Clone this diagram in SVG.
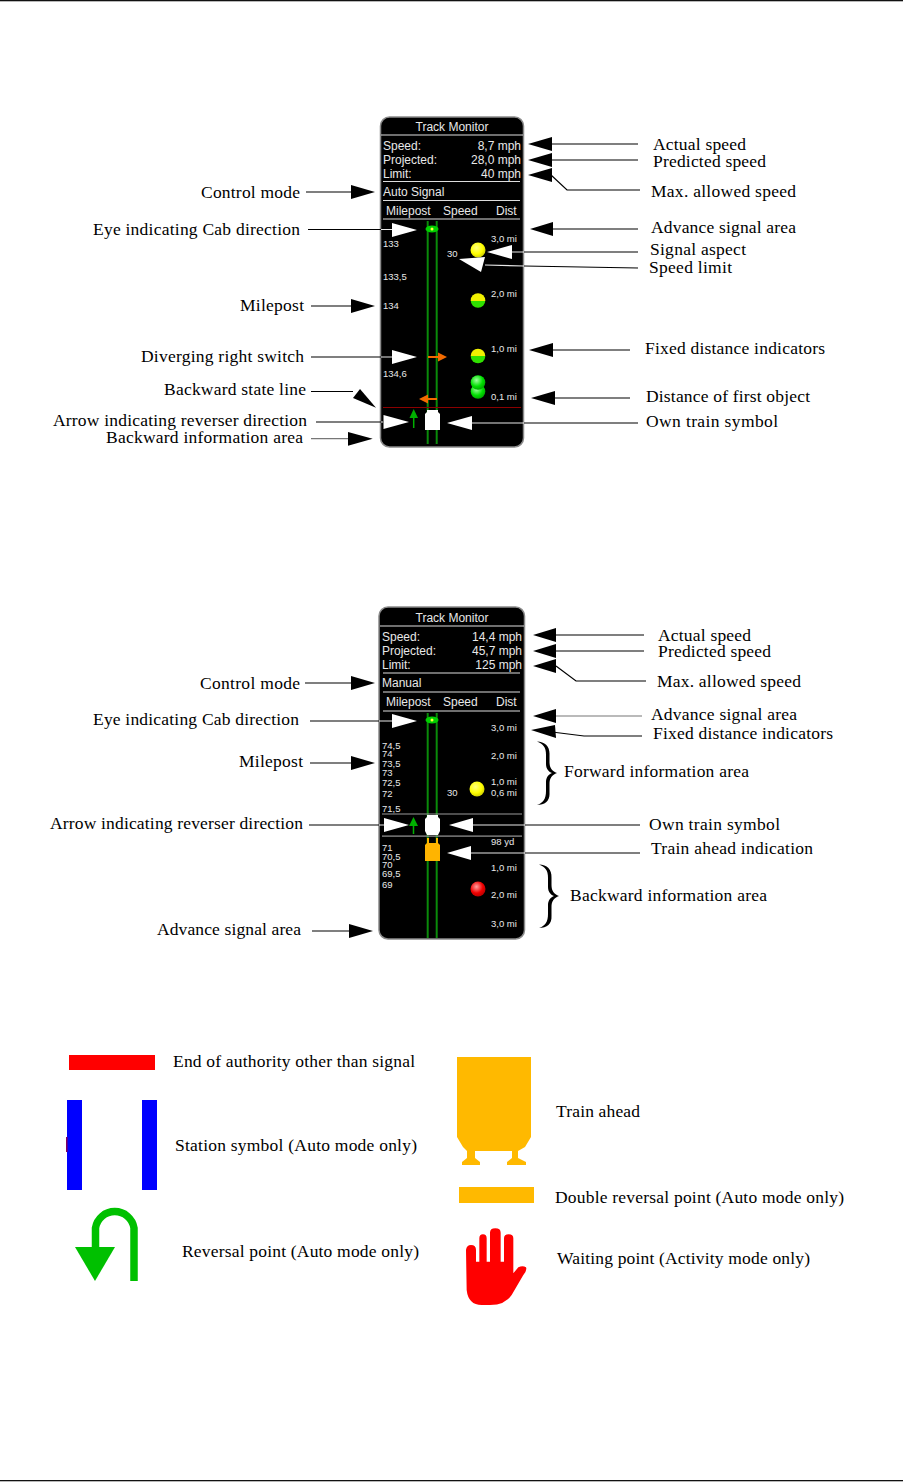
<svg xmlns="http://www.w3.org/2000/svg" width="903" height="1482" viewBox="0 0 903 1482">
<style>
.l{font:17.5px "Liberation Serif",serif;fill:#000}
.h{font:12px "Liberation Sans",Arial,sans-serif;fill:#e8e8e8}
.s{font:9.500px "Liberation Sans",Arial,sans-serif;fill:#e8e8e8}
.c{fill:none;stroke:#000;stroke-width:1.200}
.cg{fill:none;stroke:#777;stroke-width:1.200}
.cw{fill:none;stroke:#e8e8e8;stroke-width:1.200}
.b{fill:#000}
.w{fill:#fff}
.panel{fill:#000;stroke:#8a8a8a;stroke-width:1.500}
.sep{stroke:#ddd;stroke-width:1.200}
.trk{stroke:#0a8a0a;stroke-width:2}
.or{fill:#f26a00}
.or2{stroke:#f26a00;stroke-width:2}
.gr{fill:#00b000}
.gr2{stroke:#00b000;stroke-width:1.500}
.end{text-anchor:end}
</style>
<defs>
<radialGradient id="gy" cx=".4" cy=".35" r=".7"><stop offset="0" stop-color="#ffff80"/><stop offset=".6" stop-color="#ffff00"/><stop offset="1" stop-color="#c8c800"/></radialGradient>
<radialGradient id="gg" cx=".4" cy=".35" r=".7"><stop offset="0" stop-color="#a0ffa0"/><stop offset=".6" stop-color="#00e000"/><stop offset="1" stop-color="#00a000"/></radialGradient>
<radialGradient id="gr" cx=".4" cy=".35" r=".7"><stop offset="0" stop-color="#ffa0a0"/><stop offset=".6" stop-color="#f00000"/><stop offset="1" stop-color="#b00000"/></radialGradient>
<linearGradient id="gh" x1="0" y1="0" x2="0" y2="1"><stop offset=".5" stop-color="#f0f000"/><stop offset=".5" stop-color="#30e000"/></linearGradient>
<filter id="soft" x="-5%" y="-5%" width="110%" height="110%"><feGaussianBlur stdDeviation=".45"/></filter>
<path id="brace" d="M537 741.500C545 742 550 746 549.500 755L549.500 762C549.500 768 552 771 557 773C552 775 549.500 778 549.500 784L549.500 793C550 801 545 805 537 805C543 803 546 799 546 791L546 782C546 777 549 774 552 773C549 772 546 769 546 764L546 755C546 747 543 744 537 741.500Z"/>
</defs>
<rect width="903" height="1482" fill="#fff"/>
<g id="page-rules"><rect x="0" y="0" width="903" height="1.300" fill="#111"/><rect x="0" y="1480" width="903" height="1.300" fill="#111"/></g>

<g id="monitor-1">
<rect class="panel" x="380.500" y="117" width="143" height="330" rx="9"/>
<g class="sep"><line x1="381" x2="523" y1="135" y2="135"/><line x1="383" x2="520" y1="181.500" y2="181.500"/><line x1="383" x2="520" y1="200.500" y2="200.500"/><line x1="383" x2="520" y1="219" y2="219"/></g>
<text class="h" x="452" y="131" text-anchor="middle">Track Monitor</text>
<text class="h" x="383" y="150">Speed:</text><text class="h end" x="521" y="150">8,7 mph</text>
<text class="h" x="383" y="164">Projected:</text><text class="h end" x="521" y="164">28,0 mph</text>
<text class="h" x="383" y="178">Limit:</text><text class="h end" x="521" y="178">40 mph</text>
<text class="h" x="383" y="196">Auto Signal</text>
<text class="h" x="386" y="215">Milepost</text><text class="h" x="443" y="215">Speed</text><text class="h" x="496" y="215">Dist</text>
<line class="trk" x1="427.700" x2="427.700" y1="221" y2="444"/><line class="trk" x1="436.700" x2="436.700" y1="221" y2="444"/>
<ellipse cx="432" cy="229" rx="6.500" ry="3.500" fill="#00d000"/><circle cx="432" cy="229" r="1.500" fill="#ffff40"/>
<text class="s" x="383" y="247">133</text><text class="s" x="383" y="280">133,5</text><text class="s" x="383" y="309">134</text><text class="s" x="383" y="377">134,6</text>
<text class="s" x="491" y="242">3,0 mi</text><text class="s" x="491" y="297">2,0 mi</text><text class="s" x="491" y="352">1,0 mi</text><text class="s" x="491" y="400">0,1 mi</text>
<text class="s" x="447" y="257">30</text>
<circle cx="478" cy="250" r="7.500" fill="url(#gy)"/>
<circle cx="478" cy="300.500" r="7.300" fill="url(#gh)"/><circle cx="478" cy="356" r="7.300" fill="url(#gh)"/>
<circle cx="478" cy="391.500" r="7.300" fill="url(#gg)"/><circle cx="478" cy="382.500" r="7.300" fill="url(#gg)"/>
<line class="or2" x1="428" x2="439" y1="357" y2="357"/><polygon class="or" points="447,357 438,352.500 438,361.500"/>
<line class="or2" x1="428" x2="437" y1="399" y2="399"/><polygon class="or" points="419,399 428,394.500 428,403.500"/>
<line x1="383" x2="521" y1="407.500" y2="407.500" stroke="#8a0000" stroke-width="1"/>
<line class="gr2" x1="413.700" x2="413.700" y1="416" y2="428"/><polygon class="gr" points="413.700,409 409.500,418 418,418"/>
<path class="w" d="M427 410H438V412L440 414V430H425V414L427 412Z"/>
</g>

<g id="monitor-2">
<rect class="panel" x="379" y="607" width="145.500" height="332" rx="9"/>
<g class="sep"><line x1="380" x2="524" y1="626" y2="626"/><line x1="383" x2="520" y1="673" y2="673"/><line x1="383" x2="520" y1="692" y2="692"/><line x1="383" x2="520" y1="711" y2="711"/></g>
<text class="h" x="452" y="622" text-anchor="middle">Track Monitor</text>
<text class="h" x="382" y="641">Speed:</text><text class="h end" x="522" y="641">14,4 mph</text>
<text class="h" x="382" y="655">Projected:</text><text class="h end" x="522" y="655">45,7 mph</text>
<text class="h" x="382" y="669">Limit:</text><text class="h end" x="522" y="669">125 mph</text>
<text class="h" x="382" y="687">Manual</text>
<text class="h" x="386" y="706">Milepost</text><text class="h" x="443" y="706">Speed</text><text class="h" x="496" y="706">Dist</text>
<line class="trk" x1="427.700" x2="427.700" y1="713" y2="938"/><line class="trk" x1="436.700" x2="436.700" y1="713" y2="938"/>
<ellipse cx="432" cy="720" rx="6.500" ry="3.500" fill="#00d000"/><circle cx="432" cy="720" r="1.500" fill="#ffff40"/>
<text class="s" x="382" y="749">74,5</text><text class="s" x="382" y="757">74</text><text class="s" x="382" y="767">73,5</text><text class="s" x="382" y="776">73</text><text class="s" x="382" y="786">72,5</text><text class="s" x="382" y="797">72</text><text class="s" x="382" y="812">71,5</text>
<text class="s" x="382" y="851">71</text><text class="s" x="382" y="860">70,5</text><text class="s" x="382" y="868">70</text><text class="s" x="382" y="877">69,5</text><text class="s" x="382" y="888">69</text>
<text class="s" x="491" y="731">3,0 mi</text><text class="s" x="491" y="759">2,0 mi</text><text class="s" x="491" y="785">1,0 mi</text><text class="s" x="491" y="796">0,6 mi</text>
<text class="s" x="491" y="845">98 yd</text><text class="s" x="491" y="871">1,0 mi</text><text class="s" x="491" y="898">2,0 mi</text><text class="s" x="491" y="927">3,0 mi</text>
<text class="s" x="447" y="796">30</text>
<circle cx="477" cy="789" r="7.500" fill="url(#gy)"/><circle cx="478" cy="889" r="7.500" fill="url(#gr)"/>
<rect x="382" y="813.500" width="140" height="1" fill="#999"/><rect x="382" y="835.500" width="140" height="1.200" fill="#999"/>
<line class="gr2" x1="413.500" x2="413.500" y1="824" y2="834"/><polygon class="gr" points="413.500,817 409,826 418,826"/>
<path class="w" d="M427 815H438V817L440 819V831L438 835H427L425 831V819L427 817Z"/>
<path d="M427 838H429V843H436V838H438V843L440 845V861H425V845L427 843Z" fill="#ffb400"/>
</g>

<g id="legend">
<g filter="url(#soft)">
<rect id="end-authority" x="69" y="1055" width="86" height="15" fill="#f00"/>
<g id="station"><rect x="67" y="1100" width="15" height="90" fill="#00f"/><rect x="142" y="1100" width="15" height="90" fill="#00f"/><rect x="66" y="1137" width="1.500" height="15" fill="#800060"/></g>
<g id="reversal"><path d="M134 1281V1228A19.500 19.500 0 0 0 95.500 1228V1250" fill="none" stroke="#00c000" stroke-width="7.500"/><polygon points="75,1247 115,1247 95,1281" fill="#00c000"/></g>
<path id="train-ahead" fill="#ffb900" d="M457 1057H531V1137L525 1147L518 1151V1158L526 1162V1165H507V1162L512 1158V1151H475V1158L480 1162V1165H462V1162L467 1158V1151L463 1147L457 1137Z"/>
<rect id="double-reversal" x="459" y="1187" width="75" height="16" fill="#ffb900"/>
<path id="hand" transform="translate(440 1040) scale(.3333)" fill="#f00" d="M78 630Q80 615 93 615Q108 615 108 630V665H118V595Q118 583 129 583Q140 583 140 595V665H150V578Q150 565 166 565Q182 565 182 578V665H192V595Q192 583 206 583Q220 583 220 595V700L235 682Q248 675 258 682Q262 690 250 705L215 765Q195 795 150 795H125Q85 795 80 750Z"/>
</g>
</g>

<g id="connectors">
<path class="c" d="M306 192H351M308 229.500H381M311 306H351M311 357H381M311 391.500H353M316 422H381M552 144H638M552 160H638M551 175L567 190H640M553 229H638M524 252H638M524 266L638 268M553 350H630M555 398H630M524 423H638"/>
<path class="cg" d="M311 438.700H348"/>
<path class="cw" d="M381 229.500H392M381 357H392M381 422H383M512 252H524M485 265L524 266M472 423H524"/>
<path class="c" d="M305 683H351M310 721H379M310 763H351M309 825H379M312 931H349M525 825H640M525 853H640M556 651H644M556 635H644M556 666L576 681H646M552 732L584 736H642"/>
<path class="cg" d="M556 716H642"/>
<path class="cw" d="M379 721H392M379 825H384M473 825H525M471 853H525"/>
<g class="b">
<polygon points="375,192 351,185 351,199"/><polygon points="375,306 351,299 351,313"/><polygon points="372.700,438.700 348,432 348,445.700"/>
<polygon points="376,407.700 353,398 360,389"/>
<polygon points="528,144 552,137 552,151"/><polygon points="528,160 552,153 552,167"/><polygon points="528,175 552,168 552,182"/>
<polygon points="530,229 553,222 553,236"/><polygon points="529,350 553,343 553,357"/><polygon points="531,398 555,391 555,405"/>
<polygon points="375,683 351,676 351,690"/><polygon points="375,763 351,756 351,770"/><polygon points="373,931 349,924 349,938"/>
<polygon points="533,635 556,628 556,642"/><polygon points="533,651 556,644 556,658"/><polygon points="533,666 556,659 556,673"/>
<polygon points="533,716 556,709 556,723"/><polygon points="531,730 555,725 556,738"/>
</g>
<g class="w">
<polygon points="417,230 392,223 392,237"/><polygon points="417,357 392,350 392,364"/><polygon points="409,422 383.500,415 383.500,429"/>
<polygon points="487,252 512,245 512,259"/><polygon points="459,259 485,257 481,272"/><polygon points="447,423 472,416 472,430"/>
<polygon points="417,721 392,714 392,728"/><polygon points="409,825 384,818 384,832"/><polygon points="449,825 473,818 473,832"/><polygon points="447,853 471,846 471,860"/>
</g>
<use href="#brace"/>
<use href="#brace" transform="translate(2 123)"/>
</g>

<g id="labels">
<text class="l" x="201" y="198" textLength="99">Control mode</text>
<text class="l" x="93" y="235" textLength="207">Eye indicating Cab direction</text>
<text class="l" x="240" y="311" textLength="64">Milepost</text>
<text class="l" x="141" y="362" textLength="163">Diverging right switch</text>
<text class="l" x="164" y="395" textLength="142">Backward state line</text>
<text class="l" x="53" y="426" textLength="254">Arrow indicating reverser direction</text>
<text class="l" x="106" y="443" textLength="197">Backward information area</text>
<text class="l" x="653" y="150" textLength="93">Actual speed</text>
<text class="l" x="653" y="167" textLength="113">Predicted speed</text>
<text class="l" x="651" y="197" textLength="145">Max. allowed speed</text>
<text class="l" x="651" y="233" textLength="145">Advance signal area</text>
<text class="l" x="650" y="255" textLength="96">Signal aspect</text>
<text class="l" x="649" y="273" textLength="83">Speed limit</text>
<text class="l" x="645" y="354" textLength="180">Fixed distance indicators</text>
<text class="l" x="646" y="402" textLength="164">Distance of first object</text>
<text class="l" x="646" y="427" textLength="132">Own train symbol</text>
<text class="l" x="200" y="689" textLength="100">Control mode</text>
<text class="l" x="93" y="725" textLength="206">Eye indicating Cab direction</text>
<text class="l" x="239" y="767" textLength="64">Milepost</text>
<text class="l" x="50" y="829" textLength="253">Arrow indicating reverser direction</text>
<text class="l" x="157" y="935" textLength="144">Advance signal area</text>
<text class="l" x="658" y="641" textLength="93">Actual speed</text>
<text class="l" x="658" y="657" textLength="113">Predicted speed</text>
<text class="l" x="657" y="687" textLength="144">Max. allowed speed</text>
<text class="l" x="651" y="720" textLength="146">Advance signal area</text>
<text class="l" x="653" y="739" textLength="180">Fixed distance indicators</text>
<text class="l" x="564" y="777" textLength="185">Forward information area</text>
<text class="l" x="649" y="830" textLength="131">Own train symbol</text>
<text class="l" x="651" y="854" textLength="162">Train ahead indication</text>
<text class="l" x="570" y="901" textLength="197">Backward information area</text>
<text class="l" x="173" y="1067" textLength="242">End of authority other than signal</text>
<text class="l" x="175" y="1151" textLength="242">Station symbol (Auto mode only)</text>
<text class="l" x="182" y="1257" textLength="237">Reversal point (Auto mode only)</text>
<text class="l" x="556" y="1117" textLength="84">Train ahead</text>
<text class="l" x="555" y="1203" textLength="289">Double reversal point (Auto mode only)</text>
<text class="l" x="557" y="1264" textLength="253">Waiting point (Activity mode only)</text>
</g>
</svg>
